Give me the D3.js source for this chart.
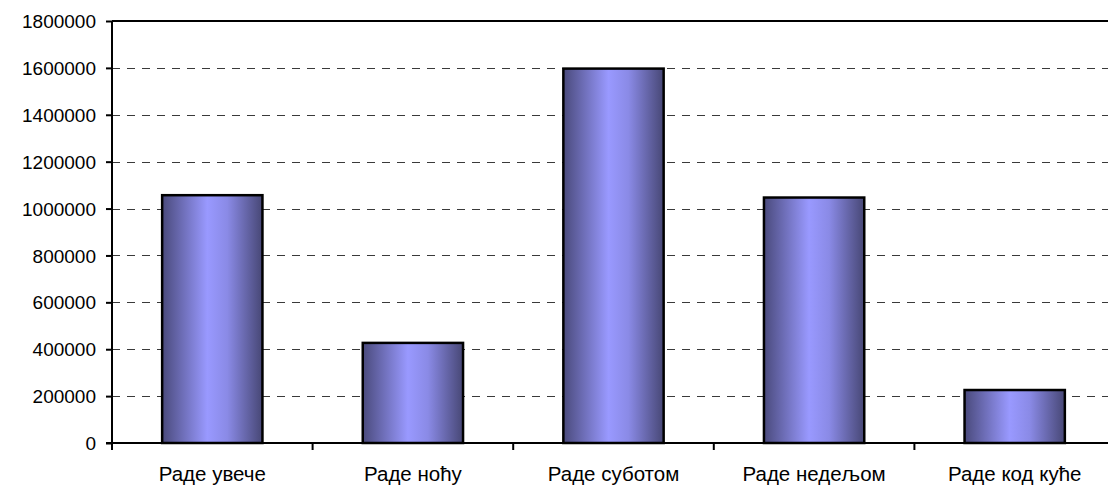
<!DOCTYPE html>
<html>
<head>
<meta charset="utf-8">
<script src="https://cdn.jsdelivr.net/npm/d3@7"></script>
<style>
html,body{margin:0;padding:0;background:#fff;overflow:hidden;}
svg{display:block;}
text{font-family:"Liberation Sans",Arial,sans-serif;fill:#000;}
</style>
</head>
<body>
<svg id="chart" width="1108" height="488"></svg>
<script>
const categories = ["Раде увече", "Раде ноћу", "Раде суботом", "Раде недељом", "Раде код куће"];
const values = [1057000, 427000, 1597000, 1047000, 226000];
const yTicks = [0, 200000, 400000, 600000, 800000, 1000000, 1200000, 1400000, 1600000, 1800000];

(function () {
const svg = d3.select("#chart");
const pLeft = 112, pRight = 1115, pTop = 21, pBottom = 443;

const x = d3.scaleBand().domain(categories).range([pLeft, pRight]).paddingInner(0.5).paddingOuter(0.25);
const y = d3.scaleLinear().domain([0, 1800000]).range([pBottom, pTop]);

const defs = svg.append("defs");
const grad = defs.append("linearGradient").attr("id", "barGrad").attr("x1", "0%").attr("x2", "100%").attr("y1", "0%").attr("y2", "0%");
grad.append("stop").attr("offset", "0%").attr("stop-color", "#4a4a7c");
grad.append("stop").attr("offset", "45%").attr("stop-color", "#9999ff");
grad.append("stop").attr("offset", "65%").attr("stop-color", "#8a8ae6");
grad.append("stop").attr("offset", "100%").attr("stop-color", "#474775");

svg.append("g").selectAll("line").data(yTicks.filter(d => d > 0 && d < 1800000)).join("line")
  .attr("x1", pLeft).attr("x2", 1108)
  .attr("y1", d => Math.round(y(d)) + 0.5).attr("y2", d => Math.round(y(d)) + 0.5)
  .attr("stroke", "#3a3a3a").attr("stroke-width", 1).attr("stroke-dasharray", "8,7");

svg.append("line").attr("x1", pLeft).attr("x2", 1108).attr("y1", y(1800000)).attr("y2", y(1800000))
  .attr("stroke", "#000").attr("stroke-width", 2);

svg.append("g").selectAll("rect").data(categories).join("rect")
  .attr("x", d => x(d)).attr("width", x.bandwidth())
  .attr("y", (d, i) => y(values[i])).attr("height", (d, i) => y(0) - y(values[i]))
  .attr("fill", "url(#barGrad)").attr("stroke", "#000").attr("stroke-width", 2.5);

const yAxis = d3.axisLeft(y).tickValues(yTicks).tickFormat(d => String(d)).tickSize(6).tickPadding(10);
const gy = svg.append("g").attr("transform", `translate(${pLeft},0)`).call(yAxis);
gy.attr("font-family", null).attr("font-size", null);
gy.select(".domain").attr("stroke-width", 2).attr("d", `M0,${pBottom}V${pTop}`);
gy.selectAll(".tick line").attr("stroke-width", 2);
gy.selectAll(".tick text").style("font-size", "19px").attr("dy", "0.35em");

const gx = svg.append("g").attr("transform", `translate(0,${pBottom})`);
gx.append("line").attr("x1", pLeft - 6).attr("x2", 1108).attr("y1", 0).attr("y2", 0).attr("stroke", "#000").attr("stroke-width", 2);
const step = x.step();
const boundaries = d3.range(categories.length).map(i => x(categories[i]) - x.paddingOuter() * step);
gx.selectAll("line.tk").data(boundaries).join("line").attr("class", "tk")
  .attr("x1", d => d).attr("x2", d => d).attr("y1", 0).attr("y2", 7).attr("stroke", "#000").attr("stroke-width", 2);
gx.selectAll("text").data(categories).join("text")
  .attr("x", d => x(d) + x.bandwidth() / 2).attr("y", 37.5)
  .attr("text-anchor", "middle").style("font-size", "20.5px").text(d => d);
})();
</script>
</body>
</html>
